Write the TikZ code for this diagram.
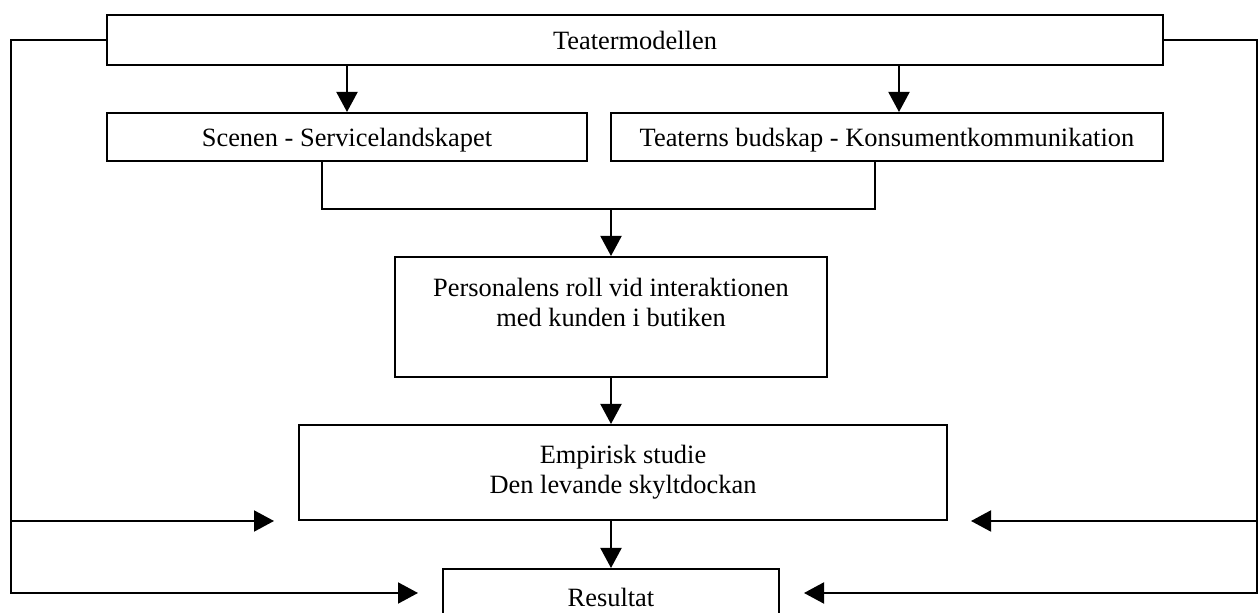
\documentclass[tikz,border=0pt]{standalone}
\usepackage{fontspec}
\setmainfont{Liberation Serif}
\usetikzlibrary{arrows.meta}
\tikzset{
  box/.style={draw, line width=1pt, inner sep=0pt, align=center,
    font=\fontsize{13.2}{15}\selectfont},
  onebox/.style={box, text depth=0pt},
  ln/.style={line width=1pt},
  arr/.style={ln, -{Triangle[length=10pt,width=10.5pt]}}
}

\begin{document}
\begin{tikzpicture}[x=0.5pt,y=-0.5pt]
    \useasboundingbox (0,0) rectangle (1259,613);
    \node[onebox, minimum width=528pt, minimum height=25pt] (modell) at (635,40) {Teatermodellen};
    \node[onebox, minimum width=240pt, minimum height=24pt] (scen) at (347,137) {Scenen - Servicelandskapet};
    \node[onebox, minimum width=276pt, minimum height=24pt] (budskap) at (887,137) {Teaterns budskap - Konsumentkommunikation};
    \node[box, minimum width=216pt, minimum height=60pt] (roll) at (611,317) {Personalens roll vid interaktionen\\med kunden i butiken\\\mbox{}};
    \node[box, minimum width=324pt, minimum height=47.5pt] (studie) at (623,472.5) {Empirisk studie\\Den levande skyltdockan};
    \node[onebox, minimum width=168pt, minimum height=28pt] (result) at (611,597) {Resultat};
    \coordinate (join) at (611,209);
    \coordinate (edgeL) at (11,0);
    \coordinate (edgeR) at (1257,0);
    \coordinate (tipL1) at (274,521);
    \coordinate (tipL2) at (418,593);
    \coordinate (tipR1) at (971,521);
    \coordinate (tipR2) at (804,593);
    % down the middle
    \draw[arr] (scen.north |- modell.south) -- (scen.north);
    \draw[arr] ([xshift=6pt]budskap.north |- modell.south) -- ([xshift=6pt]budskap.north);
    \draw[ln] ([xshift=-12.5pt]scen.south) |- (join) -| ([xshift=-6pt]budskap.south);
    \draw[arr] (join) -- (roll.north);
    \draw[arr] (roll.south) -- (roll.south |- studie.north);
    \draw[arr] (result.north |- studie.south) -- (result.north);
    % the two sides
    \draw[arr] (modell.west) -| (edgeL |- tipL2) -- (tipL2);
    \draw[arr] (edgeL |- tipL1) -- (tipL1);
    \draw[arr] (modell.east) -| (edgeR |- tipR2) -- (tipR2);
    \draw[arr] (edgeR |- tipR1) -- (tipR1);
\end{tikzpicture}
\end{document}
